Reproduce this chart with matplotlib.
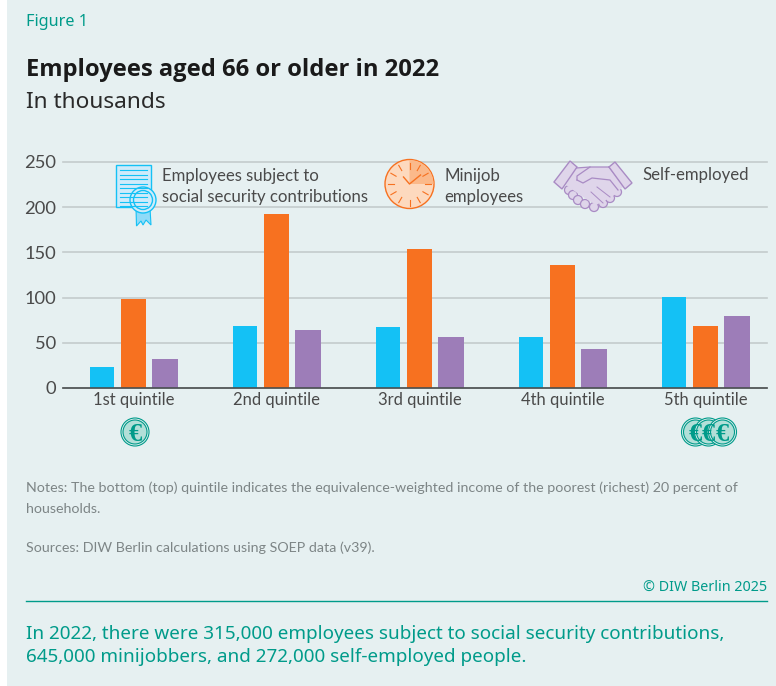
import matplotlib
matplotlib.use('Agg')
import matplotlib.pyplot as plt
import numpy as np
from matplotlib.patches import Rectangle, Circle, Polygon, Wedge

W, H = 776, 686

categories = ['1st quintile', '2nd quintile', '3rd quintile', '4th quintile', '5th quintile']
subject = [23, 69, 67, 56, 101]
minijob = [99, 192, 154, 136, 69]
self_emp = [32, 64, 56, 43, 80]
y_ticks = [0, 50, 100, 150, 200, 250]

CYAN = '#14C1F5'
ORANGE = '#F77120'
PURPLE = '#9D7DB8'
TEAL = '#009B8A'
BG = '#E6F0F1'
GREY = '#4A4A4A'
NOTE = '#7D8586'
BODY = 'Lato'

plt.rcParams['font.family'] = ['Noto Sans', 'DejaVu Sans']

fig = plt.figure(figsize=(W / 100, H / 100), dpi=100, facecolor='white')

# overlay in pixel units for the panel, texts and icons
bg = fig.add_axes([0, 0, 1, 1], zorder=0)
bg.set_xlim(0, W)
bg.set_ylim(H, 0)
bg.axis('off')
bg.add_patch(Rectangle((7, 0), W - 7, H, color=BG, lw=0))

# bar chart
ax = fig.add_axes([63 / W, 1 - 388 / H, (767 - 63) / W, (388 - 162) / H], zorder=1)
ax.patch.set_alpha(0)
x = np.arange(len(categories))
ax.bar(x - 0.22, subject, 0.172, color=CYAN, zorder=3)
ax.bar(x, minijob, 0.178, color=ORANGE, zorder=3)
ax.bar(x + 0.22, self_emp, 0.178, color=PURPLE, zorder=3)
ax.set_xlim(-0.493, 4.43)
ax.set_ylim(0, 250)
ax.set_yticks(y_ticks)
ax.set_xticks(x)
ax.set_xticklabels(categories, family=BODY)
ax.set_yticklabels([str(v) for v in y_ticks], family=BODY)
ax.tick_params(axis='x', length=0, pad=3, labelsize=12.0, labelcolor=GREY)
ax.tick_params(axis='y', length=0, pad=5, labelsize=13.2, labelcolor=GREY)
ax.grid(axis='y', color='#C4CBCC', lw=1.2, zorder=1)
ax.set_axisbelow(True)
for s in ['top', 'right', 'left']:
    ax.spines[s].set_visible(False)
ax.spines['bottom'].set_color('#4A4F50')
ax.spines['bottom'].set_linewidth(1.2)
ax.spines['bottom'].set_zorder(4)
for tick in ax.yaxis.get_gridlines():
    tick.set_clip_on(False)

# icons sit above the chart
ic = fig.add_axes([0, 0, 1, 1], zorder=2)
ic.set_xlim(0, W)
ic.set_ylim(H, 0)
ic.axis('off')


def certificate():
    ic.add_patch(Rectangle((116, 164.5), 35, 42.5, fc='#CFEBFA', ec=CYAN, lw=1))
    for i in range(9):
        yy = 170 + i * 4.5
        ic.plot([120, 147], [yy, yy], color=CYAN, lw=0.8)
    ic.add_patch(Polygon([[136, 208], [136.5, 226], [141, 221], [143, 225], [146, 220], [151, 225], [150, 208]],
                         fc='#8FDBF8', ec=CYAN, lw=0.8))
    ic.add_patch(Circle((143, 200), 13, fc='#CFEBFA', ec=CYAN, lw=1))
    ic.add_patch(Circle((143, 200), 9.5, fc='#CFEBFA', ec=CYAN, lw=1))


def clock(cx, cy, r=24.5):
    ic.add_patch(Circle((cx, cy), r, fc='#FDD9BE', ec=ORANGE, lw=1))
    # y axis is flipped, so this wedge runs from twelve to three o'clock
    ic.add_patch(Wedge((cx, cy), r - 0.5, -90, 0, fc='#FBB98A', lw=0))
    for a in np.arange(0, 360, 30):
        rad = np.deg2rad(a)
        r0, r1 = r - 9, r - 3
        ic.plot([cx + r0 * np.sin(rad), cx + r1 * np.sin(rad)],
                [cy - r0 * np.cos(rad), cy - r1 * np.cos(rad)], color=ORANGE, lw=0.8)
    ic.plot([cx - 6, cx, cx + 11], [cy - 7, cy, cy - 9], color=ORANGE, lw=1)


def handshake():
    c = '#A98BC4'
    f = '#DFD5EA'
    # finger bumps go under the hands
    for px, py in [(569, 190), (573, 195), (578, 200), (585, 204), (594, 207), (603, 203), (610, 198), (617, 192)]:
        ic.add_patch(Circle((px, py), 4.5, fc=f, ec=c, lw=0.9))
    ic.add_patch(Polygon([[576, 168], [590, 167], [609, 167], [624, 186], [612, 197], [596, 205],
                          [580, 195], [566, 185]], fc=f, ec=c, lw=0, zorder=3))
    ic.plot([576, 590, 609], [168, 167, 167], color=c, lw=0.9, zorder=4)
    ic.plot([609, 624], [167, 186], color=c, lw=0.9, zorder=4)
    ic.plot([577, 583, 592, 610, 618], [180, 183, 178, 180, 190], color=c, lw=0.9, zorder=4)
    ic.plot([590, 577, 577], [167, 176, 180], color=c, lw=0.9, zorder=4)
    ic.plot([597, 610], [187, 197], color=c, lw=0.7, zorder=4)
    ic.plot([591, 603], [192, 203], color=c, lw=0.7, zorder=4)
    ic.add_patch(Polygon([[554, 182], [570, 161], [577, 167], [562, 189]], fc=f, ec=c, lw=1, zorder=5))
    ic.add_patch(Polygon([[632, 183], [615, 162], [609, 167], [625, 189]], fc=f, ec=c, lw=1, zorder=5))


def euro(cx, cy):
    ic.add_patch(Circle((cx, cy), 14, fc=BG, ec=TEAL, lw=0.8))
    ic.add_patch(Circle((cx, cy), 12, fc='#B2DFD8', ec=TEAL, lw=0.8))
    ic.text(cx, cy, '€', color=TEAL, fontsize=19, fontweight='bold', family='Liberation Serif',
            ha='center', va='center_baseline')


certificate()
clock(409.5, 184)
handshake()
euro(135, 432)
euro(695.5, 432)
euro(708.5, 432)
euro(722.5, 432)

# legend texts
for px, py, txt in [(162, 176, 'Employees subject to'), (162, 197, 'social security contributions'),
                    (444.5, 176, 'Minijob'), (444.5, 197, 'employees'), (642, 175, 'Self-employed')]:
    ic.text(px, py, txt, fontsize=12.1, color=GREY, va='center', ha='left', family=BODY)

ic.text(26, 22, 'Figure 1', fontsize=11.7, color=TEAL, va='center')
ic.text(26, 70, 'Employees aged 66 or older in 2022', fontsize=17.1, color='#1A1A1A',
        fontweight='bold', va='center', family='Open Sans')
ic.text(26, 103, 'In thousands', fontsize=16.3, color='#2A2A2A', va='center')

ic.text(26, 488, 'Notes: The bottom (top) quintile indicates the equivalence-weighted income of the poorest (richest) 20 percent of',
        fontsize=10.3, color=NOTE, va='center', family=BODY)
ic.text(26, 509, 'households.', fontsize=10.3, color=NOTE, va='center', family=BODY)
ic.text(26, 548, 'Sources: DIW Berlin calculations using SOEP data (v39).', fontsize=10.3, color=NOTE, va='center', family=BODY)
ic.text(767, 587.5, '© DIW Berlin 2025', fontsize=10.3, color=TEAL, va='center', ha='right')
ic.plot([26, 767], [600.5, 600.5], color=TEAL, lw=1)
ic.text(26, 634, 'In 2022, there were 315,000 employees subject to social security contributions,',
        fontsize=13.6, color=TEAL, va='center')
ic.text(26, 657, '645,000 minijobbers, and 272,000 self-employed people.', fontsize=13.6, color=TEAL, va='center')

fig.savefig('out.png', dpi=100)
